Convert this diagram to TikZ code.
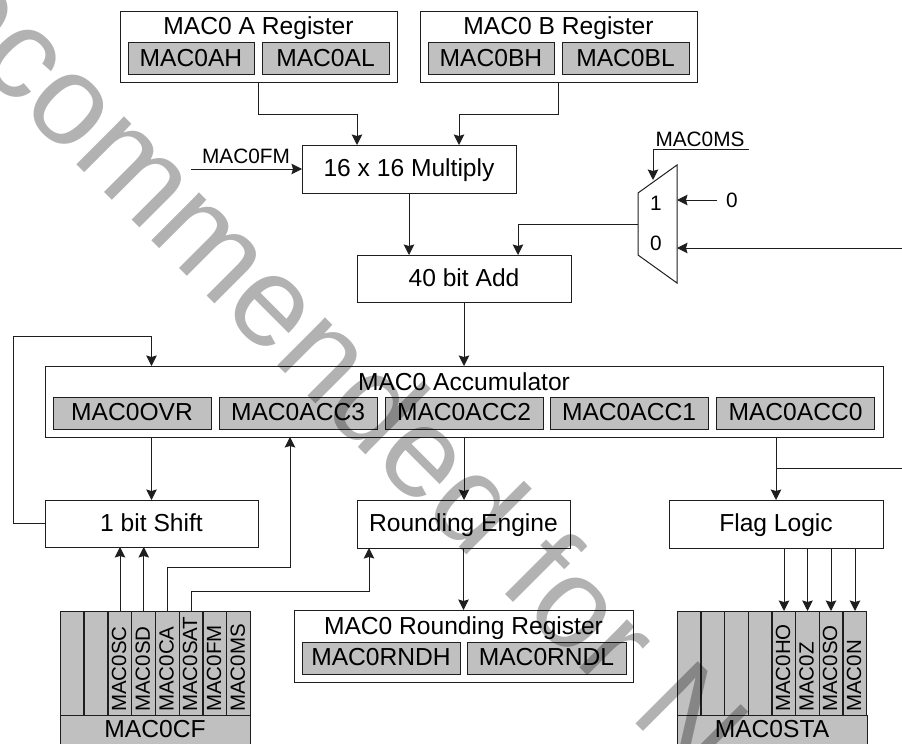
\documentclass[tikz,border=0pt]{standalone}
\usepackage{fontspec}
\setmainfont{Liberation Sans}
\usepackage{xcolor}
\definecolor{CellGray}{RGB}{192,192,192}
\definecolor{LineGray}{RGB}{30,30,30}
\usepackage{tikz}
\usetikzlibrary{
  arrows.meta,
  positioning, calc
}
\tikzset{
  % Plain white box
  wbox/.style={
    rectangle, draw=LineGray, fill=white,
    line width=1pt, inner sep=0pt, outer sep=0pt,
    align=center, text height=15pt, text depth=0pt,
    font=\fontsize{24.6}{28}\selectfont
  },
  % Gray register part
  gbox/.style={wbox, fill=CellGray, minimum height=32pt},
  % Bit cell and its upright name
  bitcell/.style={wbox, fill=CellGray, minimum width=23.75pt, minimum height=104pt},
  bitname/.style={rotate=90, anchor=west, inner sep=0pt, font=\fontsize{20.5}{24}\selectfont},
  % Free text
  plain/.style={inner sep=0pt, text height=15pt, text depth=0pt, font=\fontsize{24.6}{28}\selectfont},
  small/.style={inner sep=0pt, text height=14pt, text depth=0pt, font=\fontsize{20.8}{24}\selectfont},
  % Arrows
  arr/.style={-{Stealth[length=10.5pt,width=10.5pt,inset=1.5pt]}, line width=1pt, LineGray},
  wire/.style={line width=1pt, LineGray},
}
\begin{document}
\begin{tikzpicture}[x=1pt,y=-1pt]
  \path[use as bounding box,clip] (0,0) rectangle (902,744);

  % Input registers
  \node[wbox, minimum width=277pt, minimum height=71pt] (regA) at (258.5,46.5) {};
  \node[plain] (regAname) at (258.5,27) {MAC0 A Register};
  \node[gbox, minimum width=126pt] (regAH) at (191,58.5) {MAC0AH};
  \node[gbox, minimum width=127pt] (regAL) at (325.5,58.5) {MAC0AL};
  \node[wbox, minimum width=277pt, minimum height=71pt] (regB) at (558.5,46.5) {};
  \node[plain] (regBname) at (558.5,27) {MAC0 B Register};
  \node[gbox, minimum width=126pt] (regBH) at (491,58.5) {MAC0BH};
  \node[gbox, minimum width=127pt] (regBL) at (625.5,58.5) {MAC0BL};

  % Processing blocks
  \node[wbox, minimum width=214pt, minimum height=48pt] (mult) at (409,169) {16 x 16 Multiply};
  \node[wbox, minimum width=214pt, minimum height=47pt] (adder) at (464,278.5) {40 bit Add};
  \node[wbox, minimum width=213pt, minimum height=47pt] (shift) at (151.5,523.5) {1 bit Shift};
  \node[wbox, minimum width=213pt, minimum height=48pt] (round) at (463.5,524) {Rounding Engine};
  \node[wbox, minimum width=214pt, minimum height=48pt] (flags) at (776,524) {Flag Logic};

  % Accumulator
  \node[wbox, minimum width=838pt, minimum height=71pt] (acc) at (464,401.5) {};
  \node[plain] (accname) at (464,383) {MAC0 Accumulator};
  \node[gbox, minimum width=158pt] (accOVR) at (132,413) {MAC0OVR};
  \node[gbox, minimum width=158pt] (acc3) at (298,413) {MAC0ACC3};
  \node[gbox, minimum width=158pt] (acc2) at (464,413) {MAC0ACC2};
  \node[gbox, minimum width=158pt] (acc1) at (629,413) {MAC0ACC1};
  \node[gbox, minimum width=158pt] (acc0) at (795.5,413) {MAC0ACC0};

  % Rounding register
  \node[wbox, minimum width=339pt, minimum height=72pt] (rreg) at (463.5,646) {};
  \node[plain] (rregname) at (463.5,627) {MAC0 Rounding Register};
  \node[gbox, minimum width=158pt] (rregH) at (381,658) {MAC0RNDH};
  \node[gbox, minimum width=159pt] (rregL) at (546.5,658) {MAC0RNDL};

  % Control register
  \foreach \xpos/\cellid/\bitid in {72/cfA/, 96/cfB/, 120/cfSC/MAC0SC, 143.75/cfSD/MAC0SD,
      167.5/cfCA/MAC0CA, 191/cfSAT/MAC0SAT, 215/cfFM/MAC0FM, 238.75/cfMS/MAC0MS} {
    \node[bitcell] (\cellid) at (\xpos,663) {};
    \node[bitname] at ($(\cellid.south)+(-1,-3)$) {\bitid};
  }
  \node[wbox, fill=CellGray, minimum width=190pt, minimum height=40pt] (cfname) at (155,735) {};
  \node[plain] at (155,730) {MAC0CF};

  % Status register
  \foreach \xpos/\cellid/\bitid in {689/staA/, 713/staB/, 736.5/staC/, 760/staD/,
      784/staHO/MAC0HO, 807.5/staZ/MAC0Z, 831/staSO/MAC0SO, 855/staN/MAC0N} {
    \node[bitcell] (\cellid) at (\xpos,663) {};
    \node[bitname] at ($(\cellid.south)+(-1,-3)$) {\bitid};
  }
  \node[wbox, fill=CellGray, minimum width=190pt, minimum height=40pt] (staname) at (772,735) {};
  \node[plain] at (772,730) {MAC0STA};

  % Multiplexer
  \coordinate (muxTL) at (638,193);
  \coordinate (muxTR) at (677,165);
  \coordinate (muxBR) at (677,283);
  \coordinate (muxBL) at (638,255);
  \draw[wire] (muxTL) -- (muxTR) -- (muxBR) -- (muxBL) -- cycle;
  \node[small] (muxone) at (656,203) {1};
  \node[small] (muxzero) at (656,243) {0};
  \coordinate (muxSel) at (653,180);
  \coordinate (muxOut) at (638,224);
  \coordinate (muxIn1) at (677,200);
  \coordinate (muxIn0) at (677,248);
  \node[small] (msname) at (700,139) {MAC0MS};
  \coordinate (msEnd) at (749,149);
  \node[small] (zeroin) at (732,200) {0};
  \coordinate (zeroEnd) at (717,200);
  \coordinate (fbRight) at (902,248);
  \coordinate (fbTap) at (902,468);
  \node[small] (fmname) at (246,156) {MAC0FM};
  \coordinate (fmStart) at (191,169);

  % Bends
  \coordinate (bendA) at (357,114);
  \coordinate (bendB) at (459,114);
  \coordinate (bendMs) at (653,149);
  \coordinate (bendAdd) at (518,224);
  \coordinate (bendBack) at (13,336);
  \coordinate (bendCa) at (290,567);
  \coordinate (bendSat) at (369,591);
  \coordinate (tapAcc) at (776,468);

  % Connectors
  \draw[arr] (regA.south) |- (bendA) -- (bendA |- mult.north);
  \draw[arr] (regB.south) |- (bendB) -- (bendB |- mult.north);
  \draw[arr] (fmStart) -- (fmStart -| mult.west);
  \draw[arr] (mult.south) -- (mult.south |- adder.north);
  \draw[arr] (msEnd) -- (bendMs) -- (muxSel);
  \draw[arr] (zeroEnd) -- (muxIn1);
  \draw[arr] (fbRight) -- (muxIn0);
  \draw[arr] (muxOut) -- (bendAdd) -- (bendAdd |- adder.north);
  \draw[arr] (adder.south) -- (acc.north);
  \draw[arr] (acc.south) -- (acc.south |- round.north);
  \draw[arr] (round.south) -- (round.south |- rreg.north);
  \draw[arr] (acc.south -| shift.north) -- (shift.north);
  \draw[arr] (shift.west) -| (bendBack) -- (bendBack -| shift.north) -- (acc.north -| shift.north);
  \draw[arr] (cfSC.north) -- (cfSC.north |- shift.south);
  \draw[arr] (cfSD.north) -- (cfSD.north |- shift.south);
  \draw[arr] (cfCA.north) |- (bendCa) -- (bendCa |- acc.south);
  \draw[arr] (cfSAT.north) |- (bendSat) -- (bendSat |- round.south);
  \draw[arr] (acc.south -| flags.north) -- (flags.north);
  \draw[wire] (tapAcc) -- (fbTap);
  \draw[arr] (staHO.north |- flags.south) -- (staHO.north);
  \draw[arr] (staZ.north |- flags.south) -- (staZ.north);
  \draw[arr] (staSO.north |- flags.south) -- (staSO.north);
  \draw[arr] (staN.north |- flags.south) -- (staN.north);

  % Watermark on top
  \node[rotate=-45, anchor=base west, inner sep=0pt, text=black, text opacity=0.3,
    font=\fontsize{128}{150}\selectfont] (stamp) at (-141.3,-52.7) {Recommended for N};
\end{tikzpicture}
\end{document}
